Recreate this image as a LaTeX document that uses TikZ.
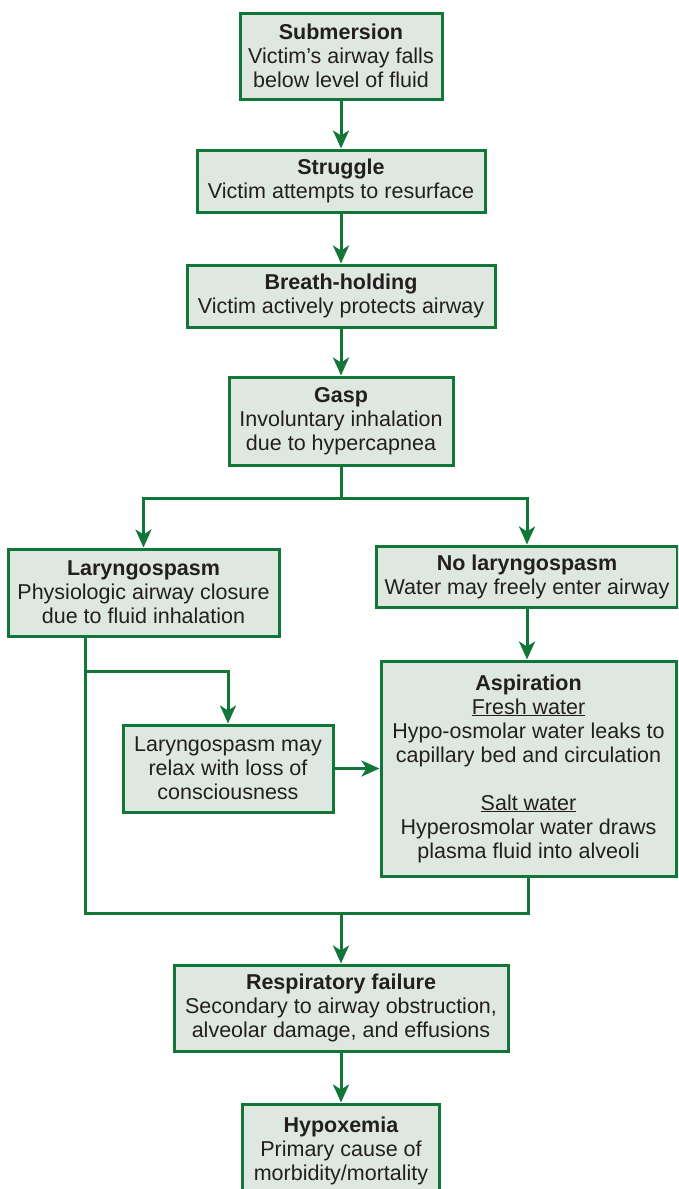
\documentclass[tikz,border=0pt]{standalone}
\usepackage{fontspec}
\setmainfont{Liberation Sans}
\usetikzlibrary{arrows.meta}
\definecolor{verdeBorde}{RGB}{18,118,56}
\definecolor{verdeFondo}{RGB}{222,232,224}
\definecolor{textoOscuro}{RGB}{35,31,32}
\tikzset{
  caja/.style={draw=verdeBorde,fill=verdeFondo,line width=3pt,align=center,
    inner sep=0pt,text=textoOscuro,font=\fontsize{21.5}{24}\selectfont},
  flecha/.style={draw=verdeBorde,line width=3pt,
    -{Stealth[length=18pt,width=16pt,inset=5pt]}},
  linea/.style={draw=verdeBorde,line width=3pt},
}

\begin{document}
\begin{tikzpicture}[x=1pt,y=-1pt]
    \useasboundingbox (0,0) rectangle (678,1189);
    \clip (0,0) rectangle (678,1189);

    % columna central
    \node[caja,minimum width=202,minimum height=86] (sumer) at (341,56)
      {\textbf{Submersion}\\Victim's airway falls\\below level of fluid};
    \node[caja,minimum width=288,minimum height=62] (lucha) at (341,181)
      {\textbf{Struggle}\\Victim attempts to resurface};
    \node[caja,minimum width=308,minimum height=62] (apnea) at (341,296)
      {\textbf{Breath-holding}\\Victim actively protects airway};
    \node[caja,minimum width=224,minimum height=88] (jadeo) at (341,421)
      {\textbf{Gasp}\\Involuntary inhalation\\due to hypercapnea};

    % ramas
    \node[caja,minimum width=271,minimum height=87] (laringo) at (143.5,592.5)
      {\textbf{Laryngospasm}\\Physiologic airway closure\\due to fluid inhalation};
    \node[caja,minimum width=301,minimum height=61] (sinlaringo) at (527,576.5)
      {\textbf{No laryngospasm}\\Water may freely enter airway};
    \node[caja,minimum width=295,minimum height=215] (aspira) at (528.5,768.5)
      {\textbf{Aspiration}\\\underline{Fresh water}\\Hypo-osmolar water leaks to\\
       capillary bed and circulation\\[24pt]\underline{Salt water}\\
       Hyperosmolar water draws\\plasma fluid into alveoli};
    \node[caja,minimum width=210,minimum height=87] (relaja) at (228,768.5)
      {Laryngospasm may\\relax with loss of\\consciousness};

    % final
    \node[caja,minimum width=334,minimum height=86] (resp) at (341,1008)
      {\textbf{Respiratory failure}\\Secondary to airway obstruction,\\alveolar damage, and effusions};
    \node[caja,minimum width=197,minimum height=94] (hipox) at (341,1151)
      {\textbf{Hypoxemia}\\Primary cause of\\morbidity/mortality};

    \coordinate (cruce) at (341,498);
    \coordinate (salida) at (85,636);
    \coordinate (union) at (341,913);

    \draw[flecha] (sumer) -- (lucha);
    \draw[flecha] (lucha) -- (apnea);
    \draw[flecha] (apnea) -- (jadeo);
    \draw[linea] (jadeo.south) -- (cruce);
    \draw[flecha] (cruce) -| (laringo.north);
    \draw[flecha] (cruce) -| (sinlaringo.north);
    \draw[flecha] (sinlaringo.south) -- (sinlaringo.south |- aspira.north);
    \draw[linea] (salida) |- (aspira.south |- union) -- (aspira.south);
    \draw[flecha] (salida |- 0,671) -| (relaja.north);
    \draw[flecha] (relaja.east) -- (relaja.east -| aspira.west);
    \draw[flecha] (union) -- (resp.north);
    \draw[flecha] (resp) -- (hipox);
\end{tikzpicture}
\end{document}
